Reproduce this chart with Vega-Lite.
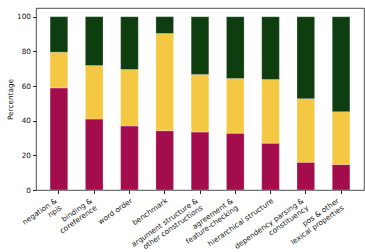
{
  "$schema": "https://vega.github.io/schema/vega-lite/v6.json",
  "autosize": "none",
  "width": 328,
  "height": 182,
  "padding": {"left": 36, "top": 8, "right": 1, "bottom": 62},
  "background": "white",
  "config": {
    "font": "DejaVu Sans",
    "view": {"stroke": "#222222", "strokeWidth": 0.8},
    "axis": {"labelFont": "DejaVu Sans", "titleFont": "DejaVu Sans", "labelColor": "#111", "titleColor": "#111", "tickColor": "#222", "domain": false, "grid": false}
  },
  "data": {
    "values": [
      {"cat": "negation &\nnpis", "idx": 0, "seg": "s1", "ord": 1, "v": 58.9},
      {"cat": "negation &\nnpis", "idx": 0, "seg": "s2", "ord": 2, "v": 20.6},
      {"cat": "negation &\nnpis", "idx": 0, "seg": "s3", "ord": 3, "v": 20.5},
      {"cat": "binding &\ncoreference", "idx": 1, "seg": "s1", "ord": 1, "v": 40.9},
      {"cat": "binding &\ncoreference", "idx": 1, "seg": "s2", "ord": 2, "v": 30.9},
      {"cat": "binding &\ncoreference", "idx": 1, "seg": "s3", "ord": 3, "v": 28.2},
      {"cat": "word order", "idx": 2, "seg": "s1", "ord": 1, "v": 36.9},
      {"cat": "word order", "idx": 2, "seg": "s2", "ord": 2, "v": 32.6},
      {"cat": "word order", "idx": 2, "seg": "s3", "ord": 3, "v": 30.5},
      {"cat": "benchmark", "idx": 3, "seg": "s1", "ord": 1, "v": 34.2},
      {"cat": "benchmark", "idx": 3, "seg": "s2", "ord": 2, "v": 56.1},
      {"cat": "benchmark", "idx": 3, "seg": "s3", "ord": 3, "v": 9.7},
      {"cat": "argument structure &\nother constructions", "idx": 4, "seg": "s1", "ord": 1, "v": 33.4},
      {"cat": "argument structure &\nother constructions", "idx": 4, "seg": "s2", "ord": 2, "v": 33.2},
      {"cat": "argument structure &\nother constructions", "idx": 4, "seg": "s3", "ord": 3, "v": 33.4},
      {"cat": "agreement &\nfeature-checking", "idx": 5, "seg": "s1", "ord": 1, "v": 32.8},
      {"cat": "agreement &\nfeature-checking", "idx": 5, "seg": "s2", "ord": 2, "v": 31.5},
      {"cat": "agreement &\nfeature-checking", "idx": 5, "seg": "s3", "ord": 3, "v": 35.7},
      {"cat": "hierarchical structure", "idx": 6, "seg": "s1", "ord": 1, "v": 27.0},
      {"cat": "hierarchical structure", "idx": 6, "seg": "s2", "ord": 2, "v": 36.7},
      {"cat": "hierarchical structure", "idx": 6, "seg": "s3", "ord": 3, "v": 36.3},
      {"cat": "dependency parsing &\nconstituency", "idx": 7, "seg": "s1", "ord": 1, "v": 16.0},
      {"cat": "dependency parsing &\nconstituency", "idx": 7, "seg": "s2", "ord": 2, "v": 36.7},
      {"cat": "dependency parsing &\nconstituency", "idx": 7, "seg": "s3", "ord": 3, "v": 47.3},
      {"cat": "pos & other\nlexical properties", "idx": 8, "seg": "s1", "ord": 1, "v": 14.7},
      {"cat": "pos & other\nlexical properties", "idx": 8, "seg": "s2", "ord": 2, "v": 30.5},
      {"cat": "pos & other\nlexical properties", "idx": 8, "seg": "s3", "ord": 3, "v": 54.8}
    ]
  },
  "mark": {"type": "bar", "stroke": "#ffffff", "strokeWidth": 0.4, "strokeOpacity": 0.6},
  "encoding": {
    "x": {
      "field": "cat",
      "type": "nominal",
      "sort": {"field": "idx"},
      "scale": {"paddingInner": 0.5, "paddingOuter": 0.4},
      "axis": {
        "title": null,
        "labelAngle": -35,
        "labelAlign": "right",
        "labelBaseline": "top",
        "labelFontSize": 7.3,
        "labelExpr": "split(datum.label, '\\n')",
        "labelLineHeight": 8.5,
        "labelOffset": {"condition": {"test": "indexof(datum.value, '\\n') >= 0", "value": -5}, "value": 0},
        "tickSize": 3.5,
        "labelPadding": 3
      }
    },
    "y": {
      "field": "v",
      "type": "quantitative",
      "stack": "zero",
      "scale": {"domain": [0, 105], "nice": false},
      "axis": {
        "title": "Percentage",
        "titleFontSize": 7.3,
        "titleFontWeight": "normal",
        "titlePadding": 2,
        "values": [0, 20, 40, 60, 80, 100],
        "labelFontSize": 7.3,
        "tickSize": 3.5,
        "labelPadding": 2
      }
    },
    "color": {
      "field": "seg",
      "type": "nominal",
      "scale": {"domain": ["s1", "s2", "s3"], "range": ["#a30d4b", "#f4c843", "#0e3e10"]},
      "legend": null
    },
    "order": {"field": "ord", "type": "quantitative"}
  }
}
